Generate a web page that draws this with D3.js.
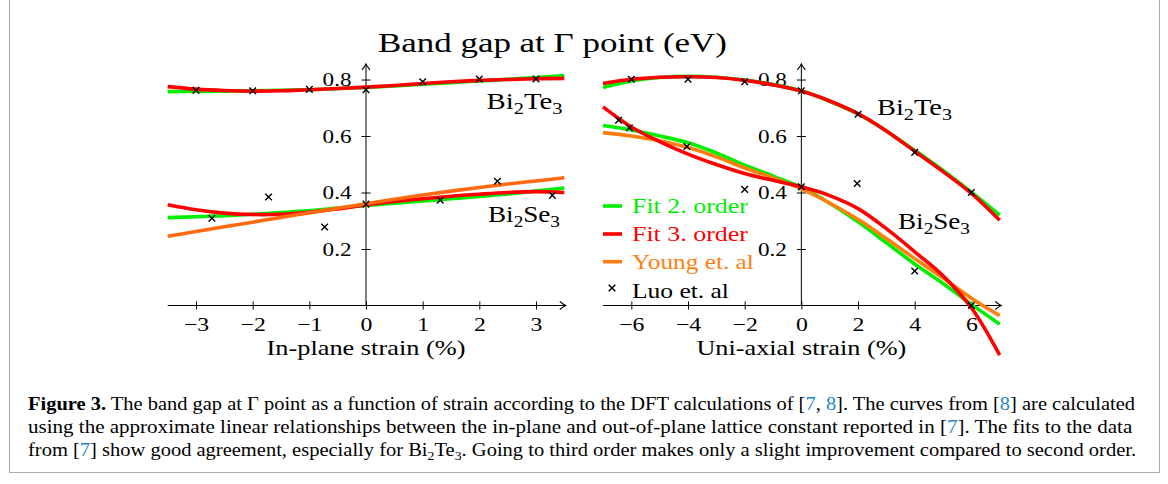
<!DOCTYPE html>
<html><head><meta charset="utf-8">
<script src="https://cdn.jsdelivr.net/npm/d3@7"></script>
<style>
body{margin:0;background:#fff;}
svg text{font-family:"Liberation Serif","Times New Roman",serif;fill:#000;}
</style></head>
<body><svg id="c" width="1168" height="484"></svg>
<script>
// ---------- DATA ----------
const titleText = "Band gap at \u0393 point (eV)";
const leftXLabel = "In-plane strain (%)";
const rightXLabel = "Uni-axial strain (%)";
const leftXTicks = [-3,-2,-1,0,1,2,3];
const rightXTicks = [-6,-4,-2,0,2,4,6];
const yTicks = [0.2,0.4,0.6,0.8];
const legendLabels = ["Fit 2. order","Fit 3. order","Young et. al","Luo et. al"];

// In-plane strain: curves
const inplaneX = [-3.5,-3,-2.5,-2,-1.5,-1,-0.5,0,0.5,1,1.5,2,2.5,3,3.5];
const inTeFit2 = [0.757,0.758,0.759,0.760,0.762,0.764,0.768,0.772,0.777,0.783,0.789,0.795,0.801,0.807,0.814];
const inTeFit3 = [0.775,0.766,0.761,0.759,0.760,0.764,0.768,0.773,0.779,0.786,0.792,0.797,0.800,0.803,0.804];
const inSeFit2 = [0.311,0.314,0.318,0.323,0.329,0.336,0.345,0.354,0.362,0.370,0.378,0.386,0.395,0.405,0.416];
const inSeFit3 = [0.357,0.339,0.327,0.322,0.323,0.330,0.342,0.356,0.368,0.378,0.387,0.394,0.400,0.403,0.400];
const inSeYoung = [0.245,0.262,0.279,0.295,0.312,0.328,0.344,0.360,0.376,0.391,0.405,0.418,0.430,0.441,0.452];
// In-plane Luo et al. points
const inTeLuoX = [-3,-2,-1,0,1,2,3];
const inTeLuoY = [0.762,0.760,0.765,0.764,0.792,0.802,0.802];
const inSeLuoX = [-2.72,-1.72,-0.73,0,1.31,2.32,3.29];
const inSeLuoY = [0.309,0.384,0.278,0.359,0.373,0.440,0.390];

// Uni-axial strain: curves
const uniX = [-7,-6,-5,-4,-3,-2,-1,0,1,2,3,4,5,6,7];
const uniTeFit2 = [0.772,0.795,0.807,0.811,0.808,0.798,0.782,0.760,0.723,0.678,0.618,0.549,0.478,0.401,0.320];
const uniTeFit3 = [0.786,0.801,0.808,0.810,0.807,0.797,0.781,0.759,0.724,0.679,0.618,0.546,0.474,0.397,0.302];
const uniSeFit2 = [0.637,0.621,0.600,0.576,0.540,0.497,0.458,0.418,0.362,0.296,0.222,0.147,0.078,0.004,-0.066];
const uniSeFit3 = [0.703,0.632,0.580,0.536,0.499,0.467,0.443,0.420,0.389,0.343,0.272,0.190,0.105,-0.008,-0.176];
const uniSeYoung = [0.612,0.600,0.583,0.559,0.526,0.487,0.452,0.413,0.363,0.305,0.237,0.166,0.097,0.026,-0.036];
// Uni-axial Luo et al. points
const uniTeLuoX = [-6,-4,-2,0,2,4,6];
const uniTeLuoY = [0.801,0.801,0.792,0.760,0.677,0.542,0.400];
const uniSeLuoX = [-6.45,-6.07,-4.04,-2,0,1.97,4,6];
const uniSeLuoY = [0.656,0.629,0.563,0.411,0.420,0.432,0.122,0.0];

// ---------- STYLE ----------
const GREEN = "#00ee00", RED = "#ff0000", ORANGE = "#ff7f0e", BLUE = "#1f86c8";
const LW = 3.6;

const svg = d3.select("#c");

function hfit(sel, target, ax){
  sel.each(function(){
    const w = this.getComputedTextLength();
    const s = target / w;
    d3.select(this).attr("transform", `translate(${ax},0) scale(${s},1) translate(${-ax},0)`);
  });
}

// frame
svg.append("rect").attr("x",9.5).attr("y",-2).attr("width",1150).attr("height",474.5)
  .attr("fill","none").attr("stroke","#aaa").attr("stroke-width",1);

// arrow marker
const defs = svg.append("defs");
defs.append("marker").attr("id","arr").attr("markerUnits","userSpaceOnUse")
  .attr("viewBox","-7 -5 9 10").attr("refX",0).attr("refY",0)
  .attr("markerWidth",9).attr("markerHeight",10).attr("orient","auto")
  .append("path").attr("d","M-5.5,-4 Q-1.5,-0.8 0.5,0 Q-1.5,0.8 -5.5,4")
  .attr("fill","none").attr("stroke","#000").attr("stroke-width",1.1);

const y = d3.scaleLinear().domain([0,0.85]).range([305.5,65.4]);
const xL = d3.scaleLinear().domain([-3.5,3.5]).range([167.7,564.3]);
const xR = d3.scaleLinear().domain([-7,7]).range([603,999.7]);

function panel(x, xTicks, xlabel, labelW){
  const g = svg.append("g");
  const x0 = x(0);
  g.append("line").attr("x1",x.range()[0]).attr("x2",x.range()[1]+1).attr("y1",y(0)).attr("y2",y(0))
    .attr("stroke","#000").attr("stroke-width",1).attr("marker-end","url(#arr)");
  g.append("line").attr("x1",x0).attr("x2",x0).attr("y1",y(0)).attr("y2",y.range()[1]-1)
    .attr("stroke","#000").attr("stroke-width",1).attr("marker-end","url(#arr)");
  const ax = g.append("g").attr("transform",`translate(0,${y(0)})`)
    .call(d3.axisBottom(x).tickValues(xTicks).tickSizeInner(4).tickSizeOuter(0)
      .tickFormat(d => d < 0 ? "\u2212" + Math.abs(d) : String(d)));
  ax.attr("font-family", null);
  ax.select(".domain").remove();
  ax.selectAll(".tick line").attr("y1",-4).attr("y2",4).attr("stroke","#000");
  ax.selectAll(".tick text").attr("y",26).attr("dy",0).attr("font-size",19)
    .attr("fill","#000").attr("transform","scale(1.25,1)");
  const ay = g.append("g").attr("transform",`translate(${x0},0)`)
    .call(d3.axisLeft(y).tickValues(yTicks).tickSizeInner(4).tickSizeOuter(0)
      .tickFormat(d3.format(".1f")));
  ay.attr("font-family", null);
  ay.select(".domain").remove();
  ay.selectAll(".tick line").attr("x1",-4.5).attr("x2",4.5).attr("stroke","#000");
  ay.selectAll(".tick text").attr("x",-14.5/1.22).attr("dy","0.33em").attr("font-size",19)
    .attr("fill","#000").attr("transform","scale(1.22,1)");
  const t = g.append("text").attr("x",x0).attr("y",355).attr("text-anchor","middle")
    .attr("font-size",21.5).text(xlabel);
  hfit(t, labelW, x0);
  return g;
}

const gL = panel(xL, leftXTicks, leftXLabel, 199);
const gR = panel(xR, rightXTicks, rightXLabel, 210);

function curve(g, x, xs, ys, color){
  const line = d3.line().x(d => x(d[0])).y(d => y(d[1])).curve(d3.curveCatmullRom.alpha(0.5));
  g.append("path").datum(d3.zip(xs, ys)).attr("d", line)
    .attr("fill","none").attr("stroke",color).attr("stroke-width",LW)
    .attr("stroke-linejoin","round");
}
function crosses(g, x, xs, ys){
  const r = 3.3;
  g.selectAll(null).data(d3.zip(xs, ys)).enter().append("path")
    .attr("d", d => { const cx = x(d[0]), cy = y(d[1]);
      return `M${cx-r},${cy-r}L${cx+r},${cy+r}M${cx-r},${cy+r}L${cx+r},${cy-r}`; })
    .attr("stroke","#000").attr("stroke-width",1.4).attr("fill","none");
}

curve(gL, xL, inplaneX, inTeFit2, GREEN);
curve(gL, xL, inplaneX, inTeFit3, RED);
curve(gL, xL, inplaneX, inSeFit2, GREEN);
curve(gL, xL, inplaneX, inSeFit3, RED);
curve(gL, xL, inplaneX, inSeYoung, "#ff6a10");
crosses(gL, xL, inTeLuoX, inTeLuoY);
crosses(gL, xL, inSeLuoX, inSeLuoY);

curve(gR, xR, uniX, uniTeFit2, GREEN);
curve(gR, xR, uniX, uniTeFit3, RED);
curve(gR, xR, uniX, uniSeFit2, GREEN);
curve(gR, xR, uniX, uniSeYoung, ORANGE);
curve(gR, xR, uniX, uniSeFit3, RED);
crosses(gR, xR, uniTeLuoX, uniTeLuoY);
crosses(gR, xR, uniSeLuoX, uniSeLuoY);

function material(g, x0, yb, base, sub1, mid, sub2, w){
  const t = g.append("text").attr("x",x0).attr("y",yb).attr("font-size",24);
  t.append("tspan").text(base);
  t.append("tspan").attr("dy",5).attr("font-size",17).text(sub1);
  t.append("tspan").attr("dy",-5).text(mid);
  t.append("tspan").attr("dy",5).attr("font-size",17).text(sub2);
  hfit(t, w, x0);
}
material(gL, 486.5, 109.5, "Bi", "2", "Te", "3", 76);
material(gL, 488, 222.5, "Bi", "2", "Se", "3", 72);
material(gR, 877, 115, "Bi", "2", "Te", "3", 75);
material(gR, 898, 229, "Bi", "2", "Se", "3", 72);

const legColors = [GREEN, RED, ORANGE, "#000"];
const legY = [206, 234, 261.7, 289];
const legBase = [213, 241.5, 269, 298];
const legW = [116, 116, 122, 97];
legendLabels.forEach((lab, i) => {
  if (i < 3) {
    svg.append("line").attr("x1",603).attr("x2",622).attr("y1",legY[i]).attr("y2",legY[i])
      .attr("stroke",legColors[i]).attr("stroke-width",LW);
  } else {
    const cx = 612, cy = 288, r = 3.3;
    svg.append("path").attr("d",`M${cx-r},${cy-r}L${cx+r},${cy+r}M${cx-r},${cy+r}L${cx+r},${cy-r}`)
      .attr("stroke","#000").attr("stroke-width",1.4);
  }
  const t = svg.append("text").attr("x",632).attr("y",legBase[i]).attr("font-size",21)
    .style("fill", legColors[i]).text(lab);
  hfit(t, legW[i], 632);
});

const tt = svg.append("text").attr("x",552.5).attr("y",52.5).attr("text-anchor","middle")
  .attr("font-size",27).text(titleText);
hfit(tt, 349, 552.5);

const capLines = [
  [{t:"Figure 3.",b:1},{t:" The band gap at \u0393 point as a function of strain according to the DFT calculations of ["},{t:"7",c:1},{t:", "},{t:"8",c:1},{t:"]. The curves from ["},{t:"8",c:1},{t:"] are calculated"}],
  [{t:"using the approximate linear relationships between the in-plane and out-of-plane lattice constant reported in ["},{t:"7",c:1},{t:"]. The fits to the data"}],
  [{t:"from ["},{t:"7",c:1},{t:"] show good agreement, especially for Bi"},{t:"2",s:1},{t:"Te"},{t:"3",s:1},{t:". Going to third order makes only a slight improvement compared to second order."}]
];
const capBase = [410, 433, 456];
const capW = [1107, 1105, 1109];
capLines.forEach((parts, i) => {
  const t = svg.append("text").attr("x",28).attr("y",capBase[i]).attr("font-size",18.5);
  let shifted = false;
  parts.forEach(p => {
    const s = t.append("tspan").text(p.t);
    if (p.b) s.attr("font-weight","bold");
    if (p.c) s.style("fill", BLUE);
    if (p.s) { s.attr("dy",4).attr("font-size",12.5); shifted = true; }
    else if (shifted) { s.attr("dy",-4); shifted = false; }
  });
  hfit(t, capW[i], 28);
});
</script>
</body></html>
